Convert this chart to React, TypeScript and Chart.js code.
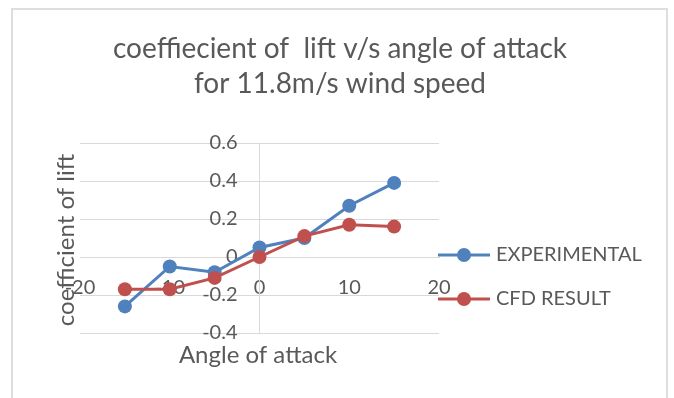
import React, { useEffect, useRef } from "react";
import { Chart, registerables } from "chart.js";

Chart.register(...registerables);

const angles = [-15, -10, -5, 0, 5, 10, 15];
const experimental = [-0.26, -0.05, -0.08, 0.05, 0.1, 0.27, 0.39];
const cfdResult = [-0.17, -0.17, -0.11, 0, 0.11, 0.17, 0.16];
const xTicks = [-20, -10, 0, 10, 20];
const yTicks = [-0.4, -0.2, 0, 0.2, 0.4, 0.6];
const titleLines = ["coeffiecient of  lift v/s angle of attack", "for 11.8m/s wind speed"];
const xTitle = "Angle of attack";
const yTitle = "coefficient of lift";
const seriesNames = ["EXPERIMENTAL", "CFD RESULT"];
const seriesColors = ["#4f81bd", "#c0504d"];

const TEXT = "#595959";
const GRID = "#d9d9d9";
const FONT = "Lato";

const chromePlugin = {
  id: "chrome",
  beforeDraw(chart: any) {
    const ctx = chart.ctx;
    ctx.save();
    ctx.fillStyle = "#ffffff";
    ctx.fillRect(0, 0, chart.width, chart.height);
    ctx.strokeStyle = "#dedede";
    ctx.lineWidth = 2;
    ctx.beginPath();
    ctx.moveTo(12, 410);
    ctx.lineTo(12, 9);
    ctx.lineTo(667, 9);
    ctx.lineTo(667, 410);
    ctx.stroke();
    ctx.restore();
    const ys = chart.scales.y;
    const items = ys.getLabelItems();
    items.forEach((it: any) => {
      if (!it.__shifted) {
        it.options.translation[0] -= 22;
        it.__shifted = true;
      }
    });
  },
  afterDraw(chart: any) {
    const ctx = chart.ctx;
    ctx.save();
    ctx.fillStyle = TEXT;
    // title
    ctx.font = `28px ${FONT}`;
    ctx.textAlign = "center";
    ctx.textBaseline = "alphabetic";
    ctx.fillText(titleLines[0], 340, 58);
    ctx.fillText(titleLines[1], 340, 93);
    // x title
    ctx.font = `24px ${FONT}`;
    ctx.fillText(xTitle, 258, 363);
    // y title
    ctx.save();
    ctx.translate(74, 240);
    ctx.rotate(-Math.PI / 2);
    ctx.fillText(yTitle, 0, 0);
    ctx.restore();
    // legend
    const ly = [255, 299];
    seriesNames.forEach((name, i) => {
      ctx.strokeStyle = seriesColors[i];
      ctx.lineWidth = 3;
      ctx.beginPath();
      ctx.moveTo(438, ly[i]);
      ctx.lineTo(490, ly[i]);
      ctx.stroke();
      ctx.fillStyle = seriesColors[i];
      ctx.beginPath();
      ctx.arc(464, ly[i], 7, 0, Math.PI * 2);
      ctx.fill();
      ctx.fillStyle = TEXT;
      ctx.font = `20px ${FONT}`;
      ctx.textAlign = "left";
      ctx.textBaseline = "middle";
      ctx.fillText(name, 496, ly[i]);
    });
    ctx.restore();
  },
};

export default function App() {
  const ref = useRef<HTMLCanvasElement | null>(null);
  useEffect(() => {
    if (!ref.current) return;
    const mk = (vals: number[]) => angles.map((a, i) => ({ x: a, y: vals[i] }));
    const chart = new Chart(ref.current, {
      type: "line",
      data: {
        datasets: [
          {
            label: seriesNames[0],
            data: mk(experimental),
            borderColor: seriesColors[0],
            backgroundColor: seriesColors[0],
            borderWidth: 3,
            pointRadius: 7,
            pointBorderWidth: 0,
            pointBackgroundColor: seriesColors[0],
            tension: 0,
            order: 1,
          },
          {
            label: seriesNames[1],
            data: mk(cfdResult),
            borderColor: seriesColors[1],
            backgroundColor: seriesColors[1],
            borderWidth: 3,
            pointRadius: 7,
            pointBorderWidth: 0,
            pointBackgroundColor: seriesColors[1],
            tension: 0,
            order: 0,
          },
        ],
      },
      options: {
        animation: false,
        responsive: false,
        devicePixelRatio: 1,
        events: [],
        layout: { padding: { left: 80, right: 235, top: 143, bottom: 65 } },
        plugins: { legend: { display: false }, title: { display: false }, tooltip: { enabled: false } },
        scales: {
          x: {
            type: "linear",
            min: xTicks[0],
            max: xTicks[xTicks.length - 1],
            position: { y: 0 } as any,
            afterBuildTicks: (s: any) => {
              s.ticks = xTicks.map((v) => ({ value: v }));
            },
            ticks: {
              color: TEXT,
              font: { family: FONT, size: 20 },
              padding: 19,
              maxRotation: 0,
              autoSkip: false,
              callback: (v: any) => String(v),
            },
            grid: { display: false, drawTicks: false },
            border: { display: true, color: GRID, width: 1 },
          },
          y: {
            type: "linear",
            min: yTicks[0],
            max: yTicks[yTicks.length - 1],
            position: { x: 0 } as any,
            afterBuildTicks: (s: any) => {
              s.ticks = yTicks.map((v) => ({ value: v }));
            },
            ticks: {
              color: TEXT,
              font: { family: FONT, size: 20 },
              padding: 0,
              autoSkip: false,
              callback: (v: any) => {
                const n = Math.round(Number(v) * 10) / 10;
                return n === 0 ? "0" : String(n);
              },
            },
            grid: { color: GRID, drawTicks: false, lineWidth: 1 },
            border: { display: true, color: GRID, width: 1 },
          },
        },
      },
      plugins: [chromePlugin],
    });
    return () => chart.destroy();
  }, []);
  return (
    <div style={{ position: "absolute", left: 0, top: 0, width: 674, height: 398, background: "#fff" }}>
      <canvas ref={ref} width={674} height={398} style={{ display: "block", width: 674, height: 398 }} />
    </div>
  );
}
